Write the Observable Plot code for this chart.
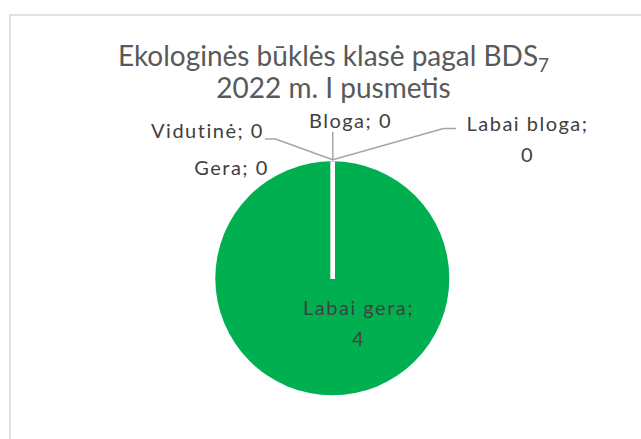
<!DOCTYPE html>
<html><head><meta charset="utf-8">
<script src="https://cdn.jsdelivr.net/npm/d3@7"></script>
<script src="https://cdn.jsdelivr.net/npm/@observablehq/plot@0.6"></script>
<style>body{margin:0;background:#fff;overflow:hidden}</style>
</head><body><div id="chart"></div>
<script>
// ---- data ----
const categories = ["Labai gera", "Gera", "Vidutinė", "Bloga", "Labai bloga"];
const values = [4, 0, 0, 0, 0];
const colors = ["#00B050", "#92D050", "#FFFF00", "#FFC000", "#FF0000"];
const titleLines = ["Ekologinės būklės klasė pagal BDS", "2022 m. I pusmetis"];
const titleSub = "7";

// ---- layout ----
const W = 641, H = 439;
const pieCenter = {x: 332.3, y: 278.3};
const pieRadius = 117;
const labelGap = 31;
const labelLayout = {
  "Labai gera":  {x: 358, y: 300,   twoLines: true},
  "Gera":        {x: 231, y: 160,   twoLines: false},
  "Vidutinė":    {x: 207, y: 123.5, twoLines: false},
  "Bloga":       {x: 350, y: 113.5, twoLines: false},
  "Labai bloga": {x: 527, y: 116.5, twoLines: true}
};
const leaderLayout = {
  "Vidutinė":    [[275, 138.5], [265, 138.5]],
  "Bloga":       [[332.3, 132]],
  "Labai bloga": [[443, 128], [455, 128]]
};

const data = categories.map((c, i) => ({category: c, value: values[i], color: colors[i]}));
const arcs = d3.pie().sort(null).value(d => d.value)(data);

// label rows (one row per text line)
const labels = [];
arcs.forEach(a => {
  const L = labelLayout[a.data.category];
  if (L.twoLines) {
    labels.push({x: L.x, y: L.y, text: `${a.data.category};`});
    labels.push({x: L.x, y: L.y + labelGap, text: `${a.data.value}`});
  } else {
    labels.push({x: L.x, y: L.y, text: `${a.data.category}; ${a.data.value}`});
  }
});

// separator lines along slice boundaries
const seps = arcs.map(a => ({
  x1: pieCenter.x, y1: pieCenter.y,
  x2: pieCenter.x + pieRadius * Math.sin(a.startAngle),
  y2: pieCenter.y - pieRadius * Math.cos(a.startAngle)
}));

// leader lines from slice edge to label
const leaders = [];
arcs.forEach(a => {
  const pts = leaderLayout[a.data.category];
  if (!pts) return;
  const mid = (a.startAngle + a.endAngle) / 2;
  const r = pieRadius + 2;
  leaders.push({c: a.data.category, x: pieCenter.x + r * Math.sin(mid), y: pieCenter.y - r * Math.cos(mid)});
  pts.forEach(p => leaders.push({c: a.data.category, x: p[0], y: p[1]}));
});

function pieSlices(index, scales) {
  const cx = scales.x(pieCenter.x), cy = scales.y(pieCenter.y);
  const arc = d3.arc().innerRadius(0).outerRadius(pieRadius);
  const g = d3.create("svg:g").attr("aria-label", "pie");
  g.selectAll("path").data(arcs.filter(a => a.value > 0)).join("path")
    .attr("transform", `translate(${cx},${cy})`)
    .attr("d", arc)
    .attr("fill", d => d.data.color);
  return g.node();
}

const titleRows = titleLines.map((t, i) => ({x: 333, y: 46 + i * 31.7, text: t}));

const chart = Plot.plot({
  width: W, height: H,
  margin: 0,
  x: {domain: [0, W], range: [0, W], axis: null},
  y: {domain: [0, H], range: [0, H], axis: null},
  style: {fontFamily: "Lato, sans-serif", background: "#fff"},
  marks: [
    Plot.frame({stroke: "#D9D9D9", strokeWidth: 1.5, insetLeft: 9.5, insetTop: 14.5, insetRight: -20, insetBottom: -20}),
    pieSlices,
    Plot.link(seps, {x1: "x1", y1: "y1", x2: "x2", y2: "y2", stroke: "#fff", strokeWidth: 4}),
    Plot.line(leaders, {x: "x", y: "y", z: "c", stroke: "#A6A6A6", strokeWidth: 1.5}),
    Plot.text(labels, {x: "x", y: "y", text: "text", fontSize: 20, lineAnchor: "top", fill: "#404040"}),
    Plot.text(titleRows, {x: "x", y: "y", text: "text", fontSize: 28, lineAnchor: "top", fill: "#595959"})
  ]
});
document.getElementById("chart").appendChild(chart);
const svg = d3.select(chart);
svg.selectAll("g").filter(function() { return this.getAttribute("fill") === "#404040"; })
  .attr("letter-spacing", "1.5px");
const titleG = svg.selectAll("g").filter(function() { return this.getAttribute("fill") === "#595959"; });
titleG.select("text").append("tspan").attr("font-size", 19).attr("dy", "0.3em").text(titleSub);
</script>
</body></html>
